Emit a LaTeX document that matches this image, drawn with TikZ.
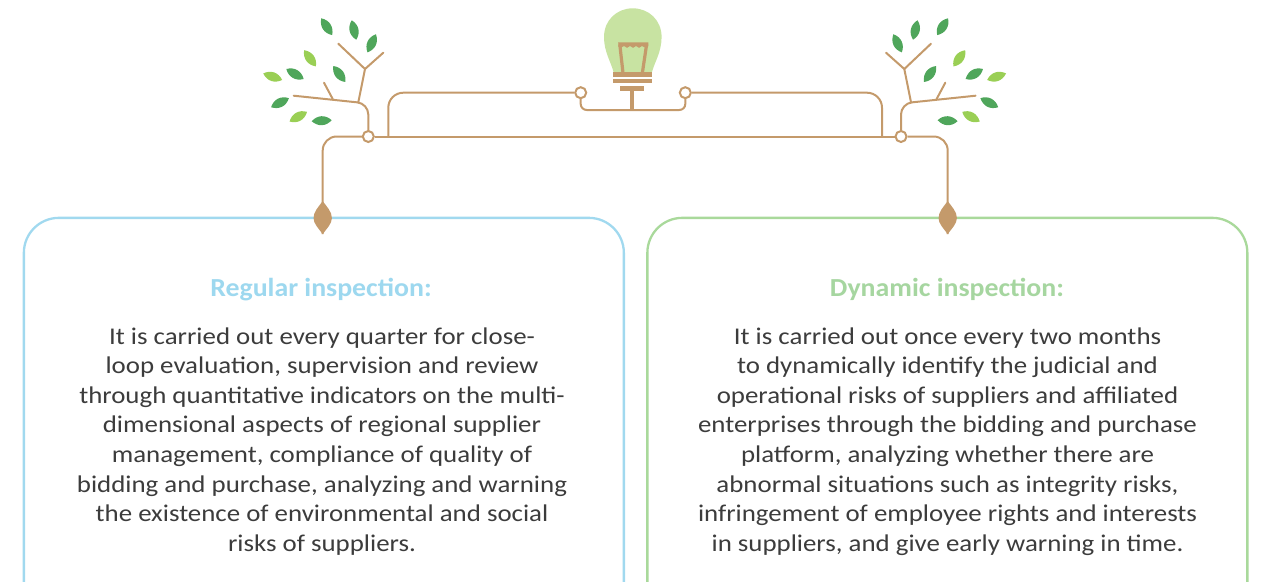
\documentclass[tikz,border=0pt]{standalone}
\usepackage{fontspec}
\setmainfont{Carlito}
\newfontfamily\bodyfam[FakeStretch=1.12]{Carlito}
\newfontfamily\headfam[FakeStretch=1.07]{Carlito}

\definecolor{wire}{HTML}{C49A6B}
\definecolor{leafdark}{HTML}{4FA65B}
\definecolor{leaflight}{HTML}{9ACF55}
\definecolor{glass}{HTML}{C8E3A2}
\definecolor{skyline}{HTML}{A1D9EF}
\definecolor{skytitle}{HTML}{9DD8EF}
\definecolor{mintline}{HTML}{A9D99B}
\definecolor{minttitle}{HTML}{A6D6A0}
\definecolor{bodytext}{HTML}{3C3C3C}

% one leaf: centre (#1,#2), tilt #3 (degrees, clockwise), colour #4
\newcommand\leafat[4]{%
  \fill[#4, shift={(#1,#2)}, rotate=-#3]
    (-10,0) .. controls (-4,-6) and (4,-6) .. (10,0)
            .. controls (4,6) and (-4,6) .. (-10,0) -- cycle;}

% one tree, rooted on the main line at x = 368.3
\newcommand\sapling{%
  \draw[twig, rounded corners=11pt] (368.3,131) -- (368.3,103.5) -- (293.7,95.7);
  \draw[twig] (358.3,102.3) -- (365,69) -- (338.3,43.7);
  \draw[twig] (365,69) -- (383.3,52.7);
  \draw[twig] (332.7,99) -- (324,82.7);
  \leafat{326.7}{26.7}{57}{leafdark}
  \leafat{354}{30}{77}{leafdark}
  \leafat{371.7}{43.3}{115}{leafdark}
  \leafat{310}{58.3}{54}{leaflight}
  \leafat{295}{74}{30}{leafdark}
  \leafat{272.7}{76.7}{19}{leaflight}
  \leafat{339.3}{74}{53}{leafdark}
  \leafat{280}{102.7}{-27}{leafdark}
  \leafat{298.3}{116.7}{-29}{leaflight}
  \leafat{321.7}{120.7}{-3}{leafdark}}

% pointed seed drop hanging on a panel edge
\newcommand\seedat[2]{%
  \fill[wire, shift={(#1,#2)}]
    (0,-16.5) .. controls (4,-11) and (9.2,-6) .. (9.2,0.5)
              .. controls (9.2,6) and (4,11) .. (0,16.5)
              .. controls (-4,11) and (-9.2,6) .. (-9.2,0.5)
              .. controls (-9.2,-6) and (-4,-11) .. (0,-16.5) -- cycle;}

\begin{document}
\begin{tikzpicture}[x=1pt, y=-1pt,
  line/.style={draw=wire, line width=2pt},
  twig/.style={draw=wire, line width=2pt, line cap=round},
  junction/.style={circle, draw=wire, fill=white, line width=2pt,
    minimum size=11pt, inner sep=0pt},
  panel/.style={rectangle, line width=2.3pt, rounded corners=35pt,
    minimum width=600pt, minimum height=420pt, anchor=north west, fill=white},
  heading/.style={font=\headfam\bfseries\fontsize{26}{30}\selectfont,
    anchor=base, inner sep=0pt},
  bodycopy/.style={font=\bodyfam\fontsize{24}{29.6}\selectfont,
    text=bodytext, align=center, anchor=base, inner sep=0pt}]

\useasboundingbox (0,0) rectangle (1284,581);
\clip (0,0) rectangle (1284,581);

% panels
\node[panel, draw=skyline]  (boxL) at (22.7,216.7) {};
\node[panel, draw=mintline] (boxR) at (646.2,216.7) {};

% trees
\sapling
\begin{scope}[xshift=1269.3pt, xscale=-1]
  \sapling
\end{scope}

% light bulb
\fill[glass] (613.5,72) .. controls (611,62) and (604,52) .. (604,37)
  .. controls (604,20) and (617,8.3) .. (632.8,8.3)
  .. controls (648.6,8.3) and (661.6,20) .. (661.6,37)
  .. controls (661.6,52) and (654.6,62) .. (652,72) -- cycle;
\draw[wire, line width=3.2pt] (622.9,72) -- (619.8,44.5);
\draw[wire, line width=3.2pt] (642.5,72) -- (646.6,44.5);
\fill[wire] (618.2,42.3) -- (648.4,42.3) -- (648.2,46.5)
  -- (645,47.6) -- (642,46) -- (639,47.8) -- (636,46) -- (633,47.8)
  -- (630,46) -- (627,47.8) -- (624,46) -- (621,47.6) -- (618.4,46.5) -- cycle;
\fill[wire] (613.3,71.7) rectangle (651.7,76.7);
\fill[wire] (613.3,78.7) rectangle (651.7,83.3);
\fill[wire] (620,86) rectangle (644.3,90.7);
\coordinate (socket) at (632,90.7);

% junctions
\node[junction] (jL) at (368.3,136.5) {};
\node[junction] (jR) at (901,136.5) {};
\node[junction] (bL) at (580.7,92.7) {};
\node[junction] (bR) at (685.3,92.7) {};

\coordinate (dL) at (322.7,217.6);
\coordinate (dR) at (947.7,217.6);
\coordinate (upL) at (388.3,136.5);
\coordinate (upR) at (882,136.5);
\coordinate (stemfoot) at (632,110);

% connectors
\draw[line] (jL.east) -- (jR.west);
\draw[line, rounded corners=14pt] (jL.west) -| ([yshift=-16.5pt]dL);
\draw[line, rounded corners=14pt] (jR.east) -| ([yshift=-16.5pt]dR);
\draw[line, rounded corners=15pt] (upL) |- (bL.west);
\draw[line, rounded corners=15pt] (bR.east) -| (upR);
\draw[line, rounded corners=6pt] (bL.south) |- (stemfoot) -| (bR.south);
\draw[wire, line width=4pt] (stemfoot) -- (socket);

% seed drops
\seedat{322.7}{217.6}
\seedat{947.7}{217.6}

% texts
\node[heading, text=skytitle]  (tL) at (321,296) {Regular inspection:};
\node[heading, text=minttitle] (tR) at (947,296) {Dynamic inspection:};

\node[bodycopy] (pL) at (322,551.2) {It is carried out every quarter for close-\\
loop evaluation, supervision and review\\
through quantitative indicators on the multi-\\
dimensional aspects of regional supplier\\
management, compliance of quality of\\
bidding and purchase, analyzing and warning\\
the existence of environmental and social\\
risks of suppliers.};

\node[bodycopy] (pR) at (947.5,551.2) {It is carried out once every two months\\
to dynamically identify the judicial and\\
operational risks of suppliers and affiliated\\
enterprises through the bidding and purchase\\
platform, analyzing whether there are\\
abnormal situations such as integrity risks,\\
infringement of employee rights and interests\\
in suppliers, and give early warning in time.};

\end{tikzpicture}
\end{document}
